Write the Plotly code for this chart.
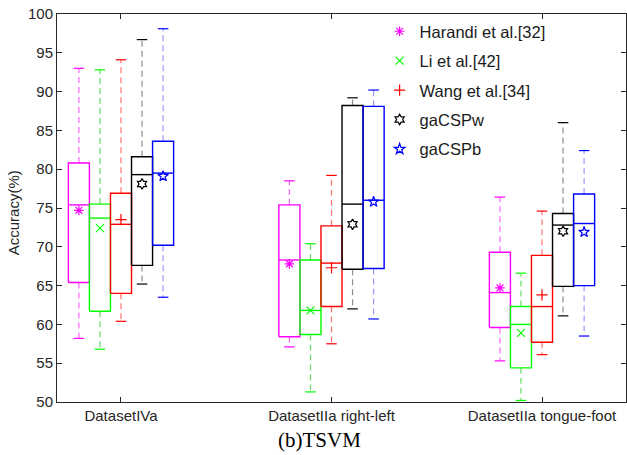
import plotly.graph_objects as go

categories = ["DatasetIVa", "DatasetIIa right-left", "DatasetIIa tongue-foot"]
methods = ["Harandi et al.[32]", "Li et al.[42]", "Wang et al.[34]", "gaCSPw", "gaCSPb"]

upper_whisker = {
    "Harandi et al.[32]": [93.0, 78.5, 76.4],
    "Li et al.[42]": [92.8, 70.4, 66.6],
    "Wang et al.[34]": [94.1, 79.2, 74.6],
    "gaCSPw": [96.7, 89.2, 86.0],
    "gaCSPb": [98.1, 90.2, 82.4],
}
q3 = {
    "Harandi et al.[32]": [80.8, 75.4, 69.3],
    "Li et al.[42]": [75.5, 68.3, 62.3],
    "Wang et al.[34]": [76.9, 72.7, 68.9],
    "gaCSPw": [81.6, 88.2, 74.3],
    "gaCSPb": [83.6, 88.1, 76.8],
}
median = {
    "Harandi et al.[32]": [75.4, 68.3, 64.1],
    "Li et al.[42]": [73.7, 61.8, 60.0],
    "Wang et al.[34]": [72.9, 67.9, 62.3],
    "gaCSPw": [79.3, 75.5, 72.8],
    "gaCSPb": [79.5, 76.0, 73.0],
}
q1 = {
    "Harandi et al.[32]": [65.4, 58.4, 59.6],
    "Li et al.[42]": [61.7, 58.7, 54.4],
    "Wang et al.[34]": [64.0, 62.3, 57.7],
    "gaCSPw": [67.6, 67.1, 64.9],
    "gaCSPb": [70.2, 67.2, 65.0],
}
lower_whisker = {
    "Harandi et al.[32]": [58.2, 57.1, 55.3],
    "Li et al.[42]": [56.8, 51.3, 50.2],
    "Wang et al.[34]": [60.4, 57.5, 56.1],
    "gaCSPw": [65.2, 62.0, 61.1],
    "gaCSPb": [63.5, 60.7, 58.5],
}
mean = {
    "Harandi et al.[32]": [74.7, 67.8, 64.7],
    "Li et al.[42]": [72.4, 61.8, 58.9],
    "Wang et al.[34]": [73.5, 67.3, 63.8],
    "gaCSPw": [78.1, 72.9, 72.0],
    "gaCSPb": [79.1, 75.8, 71.9],
}

colors = ["#FF00FF", "#00FF00", "#FF0000", "#000000", "#0000FF"]
whisker_colors = ["rgba(255,0,255,0.6)", "rgba(0,200,0,0.6)", "rgba(255,0,0,0.55)",
                  "rgba(0,0,0,0.45)", "rgba(0,0,255,0.4)"]
symbols = ["asterisk-open", "x-thin-open", "cross-thin-open", "hexagram-open", "star-open"]
offsets = [-0.2, -0.1, 0.0, 0.1, 0.2]
box_w = 0.1
cap_w = 0.05

fig = go.Figure()

for i, m in enumerate(methods):
    bx, by, mx, my, wx, wy, cx, cy = [], [], [], [], [], [], [], []
    for j in range(len(categories)):
        c = j + 1 + offsets[i]
        l, r = c - box_w / 2, c + box_w / 2
        bx += [l, r, r, l, l, None]
        by += [q1[m][j], q1[m][j], q3[m][j], q3[m][j], q1[m][j], None]
        mx += [l, r, None]
        my += [median[m][j], median[m][j], None]
        wx += [c, c, None, c, c, None]
        wy += [q3[m][j], upper_whisker[m][j], None, q1[m][j], lower_whisker[m][j], None]
        cx += [c - cap_w / 2, c + cap_w / 2, None, c - cap_w / 2, c + cap_w / 2, None]
        cy += [upper_whisker[m][j], upper_whisker[m][j], None,
               lower_whisker[m][j], lower_whisker[m][j], None]
    fig.add_trace(go.Scatter(x=wx, y=wy, mode="lines", showlegend=False, hoverinfo="skip",
                             line=dict(color=whisker_colors[i], width=1.2, dash="6px,4px")))
    fig.add_trace(go.Scatter(x=cx, y=cy, mode="lines", showlegend=False, hoverinfo="skip",
                             line=dict(color=colors[i], width=1.2)))
    fig.add_trace(go.Scatter(x=bx, y=by, mode="lines", showlegend=False, hoverinfo="skip",
                             line=dict(color=colors[i], width=1.4)))
    fig.add_trace(go.Scatter(x=mx, y=my, mode="lines", showlegend=False, hoverinfo="skip",
                             line=dict(color=colors[i], width=1.4)))

for i, m in enumerate(methods):
    fig.add_trace(go.Scatter(
        x=[j + 1 + offsets[i] for j in range(len(categories))], y=mean[m],
        mode="markers", name=m, legendgroup=m,
        marker=dict(symbol=symbols[i], size=8, color=colors[i],
                    line=dict(color=colors[i], width=1.2))))

font_family = "Arial, Liberation Sans, sans-serif"

fig.update_layout(
    width=627, height=455,
    margin=dict(l=57, r=1, t=14, b=53),
    plot_bgcolor="white", paper_bgcolor="white",
    showlegend=True,
    legend=dict(x=0.567, y=1.0, xanchor="left", yanchor="top",
                bgcolor="rgba(0,0,0,0)", borderwidth=0, tracegroupgap=5,
                font=dict(family=font_family, size=16.5, color="#1a1a1a"),
                itemsizing="trace"),
    xaxis=dict(range=[0.696, 3.399], tickvals=[1, 2, 3], ticktext=categories,
               showgrid=False, zeroline=False, showline=True, linecolor="#262626",
               linewidth=1, mirror="ticks", ticks="inside", ticklen=5, tickcolor="#262626",
               tickfont=dict(family=font_family, size=15, color="#262626")),
    yaxis=dict(range=[50, 100], tickvals=[50, 55, 60, 65, 70, 75, 80, 85, 90, 95, 100],
               showgrid=False, zeroline=False, showline=True, linecolor="#262626",
               linewidth=1, mirror="ticks", ticks="inside", ticklen=5, tickcolor="#262626",
               tickfont=dict(family=font_family, size=15, color="#262626")),
    annotations=[
        dict(text="Accuracy(%)", xref="paper", yref="paper", x=-0.077, y=0.487,
             textangle=-90, showarrow=False, xanchor="center", yanchor="middle",
             font=dict(family=font_family, size=15, color="#262626")),
        dict(text="(b)TSVM", xref="paper", yref="paper", x=0.461, y=-0.098,
             showarrow=False, xanchor="center", yanchor="middle",
             font=dict(family="Times New Roman, Liberation Serif, serif", size=21, color="#000000")),
    ],
)

fig.write_html("out.html")
